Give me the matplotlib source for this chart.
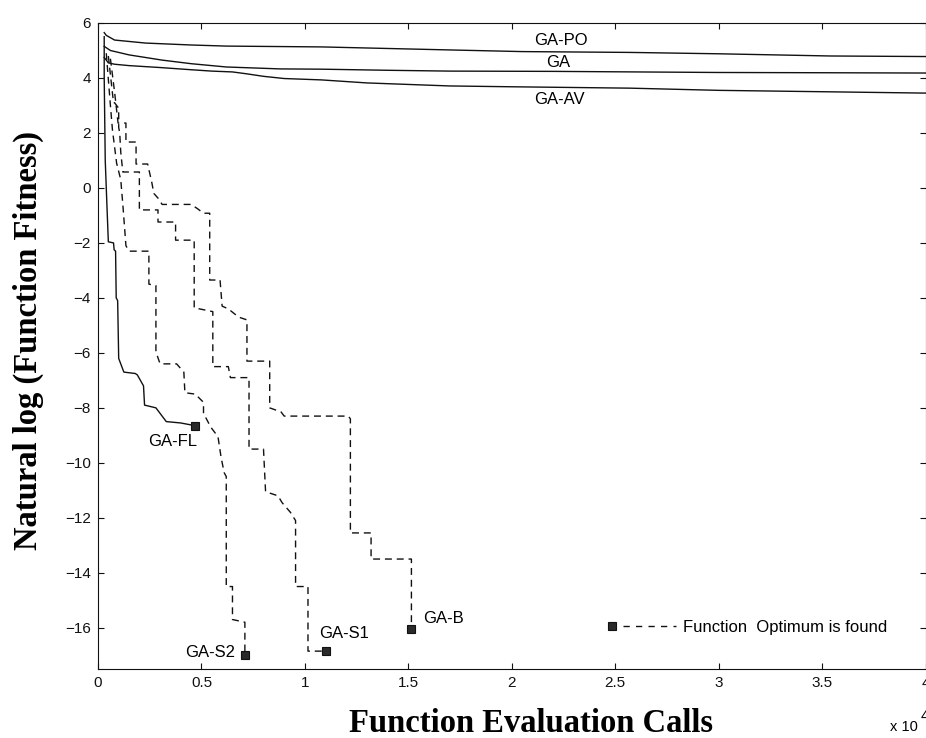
import matplotlib
matplotlib.use("Agg")
import matplotlib.pyplot as plt
from matplotlib.lines import Line2D
from matplotlib.legend_handler import HandlerBase

plt.rcParams['font.family'] = ['Liberation Sans', 'DejaVu Sans']

# ---------------- data (x in units of 10^4 function evaluation calls) ----------------
gapo_x = [0.03, 0.04, 0.08, 0.23, 0.45, 0.62, 1.08, 1.7, 2.05, 2.57, 3.0, 3.54, 4.0]
gapo_y = [5.65, 5.55, 5.38, 5.27, 5.2, 5.16, 5.13, 5.02, 4.96, 4.93, 4.88, 4.8, 4.78]

ga_x = [0.03, 0.06, 0.15, 0.31, 0.45, 0.62, 0.88, 1.08, 1.4, 1.7, 2.2, 2.6, 3.0, 3.54, 4.0]
ga_y = [5.15, 5.0, 4.84, 4.65, 4.52, 4.4, 4.33, 4.32, 4.28, 4.25, 4.24, 4.22, 4.2, 4.19, 4.18]

gaav_x = [0.03, 0.05, 0.08, 0.15, 0.3, 0.45, 0.55, 0.65, 0.72, 0.8, 0.9, 1.08, 1.3, 1.7,
          2.0, 2.57, 3.0, 3.5, 4.0]
gaav_y = [4.75, 4.55, 4.5, 4.45, 4.38, 4.3, 4.25, 4.22, 4.15, 4.06, 3.98, 3.93, 3.82, 3.71,
          3.68, 3.63, 3.55, 3.5, 3.45]

gafl_x = [0.03, 0.03, 0.035, 0.045, 0.05, 0.075, 0.078, 0.085, 0.088, 0.095, 0.1, 0.125,
          0.18, 0.19, 0.22, 0.225, 0.28, 0.30, 0.33, 0.40, 0.47]
gafl_y = [5.5, 4.0, 1.0, -1.0, -1.96, -2.0, -2.25, -2.3, -4.0, -4.1, -6.2, -6.7,
          -6.75, -6.8, -7.2, -7.9, -8.0, -8.2, -8.5, -8.55, -8.65]

gas2_x = [0.04, 0.06, 0.07, 0.09, 0.11, 0.12, 0.135, 0.15, 0.246, 0.246, 0.28, 0.28, 0.30,
          0.38, 0.415, 0.42, 0.47, 0.51, 0.51, 0.545, 0.58, 0.595, 0.61, 0.62, 0.62, 0.65,
          0.65, 0.71, 0.71]
gas2_y = [4.9, 3.0, 2.1, 0.9, 0.3, -0.6, -2.1, -2.3, -2.3, -3.5, -3.55, -5.96, -6.4,
          -6.4, -6.7, -7.45, -7.5, -7.8, -8.2, -8.7, -9.05, -9.8, -10.36, -10.5, -14.5, -14.5,
          -15.7, -15.8, -17.0]

gas1_x = [0.05, 0.075, 0.08, 0.1, 0.1, 0.105, 0.11, 0.12, 0.2, 0.2, 0.29, 0.29, 0.375,
          0.375, 0.465, 0.465, 0.555, 0.555, 0.63, 0.64, 0.73, 0.73, 0.80, 0.81, 0.87, 0.89,
          0.93, 0.955, 0.955, 1.015, 1.015, 1.10]
gas1_y = [4.8, 3.1, 3.1, 2.9, 2.2, 2.0, 1.3, 0.58, 0.58, -0.8, -0.8, -1.24, -1.24,
          -1.9, -1.9, -4.36, -4.5, -6.5, -6.5, -6.9, -6.9, -9.5, -9.5, -11.05, -11.2, -11.45,
          -11.8, -12.1, -14.5, -14.5, -16.85, -16.85]

gab_x = [0.06, 0.08, 0.097, 0.135, 0.135, 0.184, 0.184, 0.24, 0.26, 0.27, 0.29, 0.31, 0.45,
         0.48, 0.51, 0.54, 0.54, 0.59, 0.60, 0.63, 0.68, 0.72, 0.72, 0.83, 0.83, 0.885, 0.90,
         1.21, 1.22, 1.22, 1.32, 1.32, 1.515, 1.515]
gab_y = [4.7, 3.5, 2.36, 2.36, 1.67, 1.67, 0.87, 0.87, 0.2, -0.2, -0.37, -0.6, -0.6,
         -0.75, -0.92, -0.92, -3.35, -3.35, -4.3, -4.4, -4.7, -4.8, -6.3, -6.3, -8.0, -8.15,
         -8.3, -8.3, -8.4, -12.55, -12.55, -13.5, -13.5, -16.04]

x_ticks = [0, 0.5, 1, 1.5, 2, 2.5, 3, 3.5, 4]
x_tick_labels = ["0", "0.5", "1", "1.5", "2", "2.5", "3", "3.5", "4"]
y_ticks = [-16, -14, -12, -10, -8, -6, -4, -2, 0, 2, 4, 6]

# ---------------- figure ----------------
fig = plt.figure(figsize=(9.26, 7.38), dpi=100)
ax = fig.add_axes([98 / 926, 69 / 738, 827.5 / 926, 646 / 738])

ink = '#111111'
solid_kw = dict(color=ink, lw=1.0, ls='-')
dash_kw = dict(color=ink, lw=1.0, ls=(0, (5, 3.5)))
mark_kw = dict(marker='s', ms=6, mfc='#2a2a2a', mec=ink, mew=0.8, markevery=[-1])

ax.plot(gapo_x, gapo_y, **solid_kw)
ax.plot(ga_x, ga_y, **solid_kw)
ax.plot(gaav_x, gaav_y, **solid_kw)
ax.plot(gafl_x, gafl_y, **solid_kw, **mark_kw)
ax.plot(gas2_x, gas2_y, **dash_kw, **mark_kw)
ax.plot(gas1_x, gas1_y, **dash_kw, **mark_kw)
ax.plot(gab_x, gab_y, **dash_kw, **mark_kw)

lab_fs = 12
ax.text(2.106, 5.35, "GA-PO", fontsize=lab_fs, ha='left', va='center')
ax.text(2.164, 4.58, "GA", fontsize=lab_fs, ha='left', va='center')
ax.text(2.106, 3.2, "GA-AV", fontsize=lab_fs, ha='left', va='center')
ax.text(0.242, -9.24, "GA-FL", fontsize=lab_fs, ha='left', va='center')
ax.text(0.665, -16.9, "GA-S2", fontsize=lab_fs, ha='right', va='center')
ax.text(1.068, -16.2, "GA-S1", fontsize=lab_fs, ha='left', va='center')
ax.text(1.57, -15.67, "GA-B", fontsize=lab_fs, ha='left', va='center')


class OptimumKeyHandler(HandlerBase):
    def create_artists(self, legend, orig_handle, xdescent, ydescent, width, height,
                       fontsize, trans):
        y = height / 2 - ydescent
        x0 = -xdescent
        mk = Line2D([x0 + 0.06 * width], [y], ls='none', marker='s', ms=6,
                    mfc='#2a2a2a', mec=ink, mew=0.8)
        ln = Line2D([x0 + 0.22 * width, x0 + width], [y, y], color=ink, lw=1.0,
                    ls=(0, (4.5, 4.5)))
        mk.set_transform(trans)
        ln.set_transform(trans)
        return [mk, ln]


proxy = Line2D([], [], color=ink)
ax.legend(handles=[proxy], labels=["Function  Optimum is found"],
          handler_map={proxy: OptimumKeyHandler()},
          loc='center left', bbox_to_anchor=(0.616, 0.065), frameon=False,
          handlelength=4.1, handletextpad=0.42, borderpad=0, borderaxespad=0,
          fontsize=12)

ax.set_xlim(0, 4)
ax.set_ylim(-17.5, 6)
ax.set_xticks(x_ticks)
ax.set_xticklabels(x_tick_labels)
ax.set_yticks(y_ticks)
ax.tick_params(direction='in', top=True, right=True, length=4.5, width=0.8,
               labelsize=11, pad=5, colors=ink)
for s in ax.spines.values():
    s.set_linewidth(0.8)
    s.set_color(ink)

serif = ['Liberation Serif', 'DejaVu Serif']
ax.set_xlabel("Function Evaluation Calls", fontsize=23.5, fontweight='bold', family=serif)
ax.set_ylabel("Natural log (Function Fitness)", fontsize=23.5, fontweight='bold', family=serif)
ax.xaxis.set_label_coords(0.523, -0.06)
ax.yaxis.set_label_coords(-0.065, 0.509)

fig.text(890 / 926, 1 - 727 / 738, "x 10", fontsize=10.5, ha='left', va='center')
fig.text(921 / 926, 1 - 716 / 738, "4", fontsize=10.5, ha='left', va='center')

fig.savefig("out.png", dpi=100, facecolor='white')
